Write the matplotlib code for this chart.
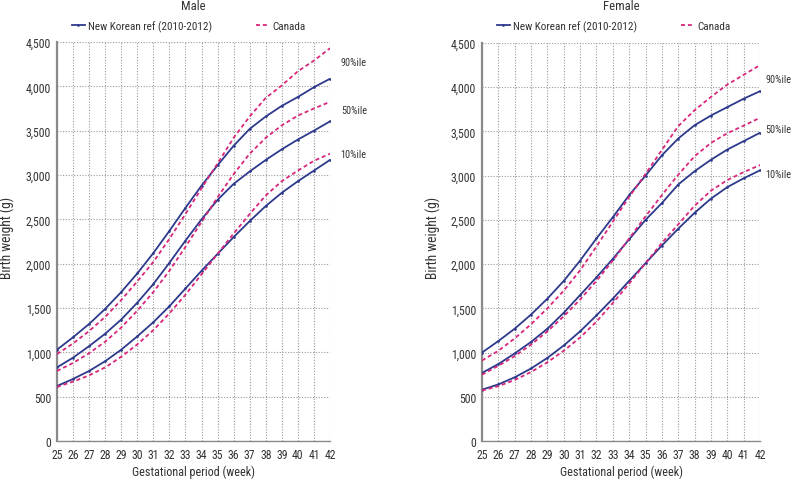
import os
import matplotlib
matplotlib.use("Agg")
import matplotlib.pyplot as plt
from matplotlib import font_manager
from matplotlib.font_manager import FontProperties
from matplotlib.textpath import TextPath

weeks = list(range(25, 43))

male_kor_90 = [1030, 1170, 1320, 1490, 1680, 1890, 2120, 2370, 2630, 2880, 3110, 3330, 3520, 3660, 3780, 3880, 3990, 4085]
male_can_90 = [980, 1100, 1240, 1400, 1590, 1800, 2020, 2280, 2560, 2850, 3130, 3420, 3660, 3870, 4010, 4170, 4290, 4430]
male_kor_50 = [830, 940, 1070, 1210, 1370, 1560, 1770, 2010, 2260, 2500, 2720, 2900, 3040, 3170, 3290, 3400, 3500, 3605]
male_can_50 = [790, 880, 990, 1120, 1280, 1470, 1680, 1920, 2190, 2470, 2750, 3010, 3240, 3420, 3560, 3670, 3750, 3825]
male_kor_10 = [620, 700, 790, 900, 1030, 1180, 1340, 1520, 1720, 1920, 2110, 2300, 2480, 2650, 2800, 2930, 3050, 3170]
male_can_10 = [610, 670, 740, 830, 950, 1090, 1250, 1440, 1650, 1880, 2110, 2340, 2560, 2770, 2930, 3050, 3160, 3240]

female_kor_90 = [1000, 1130, 1270, 1430, 1610, 1810, 2040, 2290, 2530, 2780, 3000, 3230, 3420, 3570, 3680, 3775, 3870, 3955]
female_can_90 = [910, 1020, 1160, 1320, 1500, 1700, 1930, 2200, 2480, 2760, 3020, 3290, 3560, 3740, 3890, 4030, 4140, 4250]
female_kor_50 = [770, 870, 990, 1120, 1270, 1450, 1650, 1850, 2060, 2280, 2500, 2690, 2900, 3050, 3180, 3295, 3390, 3485]
female_can_50 = [750, 850, 960, 1090, 1240, 1410, 1600, 1810, 2040, 2290, 2540, 2780, 3010, 3220, 3370, 3480, 3565, 3655]
female_kor_10 = [580, 640, 720, 820, 940, 1080, 1240, 1420, 1610, 1810, 2010, 2210, 2400, 2580, 2740, 2870, 2970, 3060]
female_can_10 = [570, 620, 690, 780, 890, 1020, 1170, 1350, 1560, 1780, 2010, 2240, 2450, 2660, 2830, 2950, 3040, 3120]

y_ticks = [0, 500, 1000, 1500, 2000, 2500, 3000, 3500, 4000, 4500]
pct_labels = ["90%ile", "50%ile", "10%ile"]
male_label_pos = [4270, 3730, 3235]
female_label_pos = [4090, 3525, 3020]
series_names = ["New Korean ref (2010-2012)", "Canada"]
panel_titles = ["Male", "Female"]
x_title = "Gestational period (week)"
y_title = "Birth weight (g)"

# ---- choose a condensed sans font file ----
prefs = ["Roboto Condensed", "Archivo Narrow", "Liberation Sans Narrow", "Arial Narrow", "PT Sans Narrow",
         "Open Sans Condensed", "IBM Plex Sans Condensed", "Fira Sans Condensed", "Asap Condensed",
         "Encode Sans Condensed", "Barlow Semi Condensed", "Roboto"]
entries = font_manager.fontManager.ttflist
chosen = None
for p in prefs:
    for f in entries:
        if f.name == p and f.style == "normal" and f.weight in (400, "normal", "regular"):
            st = str(f.stretch).lower()
            if p == "Roboto" and "condensed" not in st and "condensed" not in os.path.basename(f.fname).lower():
                continue
            chosen = f
            break
    if chosen:
        break
if chosen is not None:
    FP = FontProperties(fname=chosen.fname)
else:
    FP = FontProperties(family="DejaVu Sans", stretch="condensed")

def fit(text, target_px):
    w = TextPath((0, 0), text, size=10, prop=FP).get_extents().width * 100 / 72.0
    return 10.0 * target_px / w

def fp(size):
    p = FP.copy()
    p.set_size(size)
    return p

tick_fs = fit("4,500", 24.5)
leg_fs = fit(series_names[0], 122)
title_fs = fit("Male", 23)
xl_fs = fit(x_title, 122)
yl_fs = fit(y_title, 81)
pct_fs = fit("90%ile", 25)

KOR = "#2d3a8c"
CAN = "#d9267a"
TXT = "#333333"

fig = plt.figure(figsize=(7.93, 4.81), dpi=100)
W, H = 793, 481

def make_ax(x0, x1, ytop, ybot):
    return fig.add_axes([x0 / W, 1 - ybot / H, (x1 - x0) / W, (ybot - ytop) / H])

axL = make_ax(57, 330, 43, 442)
axR = make_ax(482, 760, 44, 442)

panels = [
    (axL, [male_kor_90, male_kor_50, male_kor_10], [male_can_90, male_can_50, male_can_10],
     male_label_pos, panel_titles[0], 42.67, 188.5, 7),
    (axR, [female_kor_90, female_kor_50, female_kor_10], [female_can_90, female_can_50, female_can_10],
     female_label_pos, panel_titles[1], 42.35, 613.5, 433),
]

leg_px = leg_fs * 100 / 72.0

for ax, kor, can, lpos, title, lx, legx, ylx in panels:
    for i, s in enumerate(kor):
        ax.plot(weeks, s, color=KOR, lw=1.3, marker="o", ms=0.9, zorder=3,
                label=series_names[0] if i == 0 else None)
    for i, s in enumerate(can):
        ax.plot(weeks, s, color=CAN, lw=1.3, linestyle=(0, (2.2, 1.6)), zorder=4,
                label=series_names[1] if i == 0 else None)
    ax.set_xlim(25, 42)
    ax.set_ylim(0, 4500)
    ax.set_xticks(weeks)
    ax.set_xticklabels([str(w) for w in weeks], color=TXT, fontproperties=fp(tick_fs))
    ax.set_yticks(y_ticks)
    ax.set_yticklabels([f"{v:,}" for v in y_ticks], color=TXT, fontproperties=fp(tick_fs))
    ax.tick_params(axis="x", length=0, pad=5)
    ax.tick_params(axis="y", length=0, pad=4.3)
    ax.grid(True, color="#9a9a9a", linestyle=(0, (1, 1.5)), lw=0.8)
    ax.set_axisbelow(True)
    for sp in ["top", "right"]:
        ax.spines[sp].set_visible(False)
    ax.spines["left"].set_color("#8a8a8a")
    ax.spines["left"].set_linewidth(1.6)
    ax.spines["bottom"].set_color("#8a8a8a")
    ax.spines["bottom"].set_linewidth(1.0)
    bb = ax.get_position()
    xc = bb.x0 + bb.width / 2
    fig.text(xc, 1 - 472 / H, x_title, ha="center", va="center", color=TXT, fontproperties=fp(xl_fs))
    fig.text(ylx / W, 1 - 238 / H, y_title, ha="center", va="center", rotation=90, color=TXT,
             fontproperties=fp(yl_fs))
    for lab, yv in zip(pct_labels, lpos):
        ax.text(lx, yv, lab, color=TXT, va="center", ha="left", clip_on=False, fontproperties=fp(pct_fs))
    leg = fig.legend(handles=ax.get_lines()[0:1] + ax.get_lines()[3:4], labels=series_names,
                     loc="center", bbox_to_anchor=(legx / W, 1 - 27 / H), ncol=2, frameon=False,
                     prop=fp(leg_fs), handlelength=13 / leg_px, handletextpad=3 / leg_px,
                     columnspacing=44 / leg_px, borderpad=0, borderaxespad=0)
    for t in leg.get_texts():
        t.set_color(TXT)
    fig.text(xc, 1 - 7 / H, title, ha="center", va="center", color=TXT, fontproperties=fp(title_fs))

fig.savefig("out.png", dpi=100)
